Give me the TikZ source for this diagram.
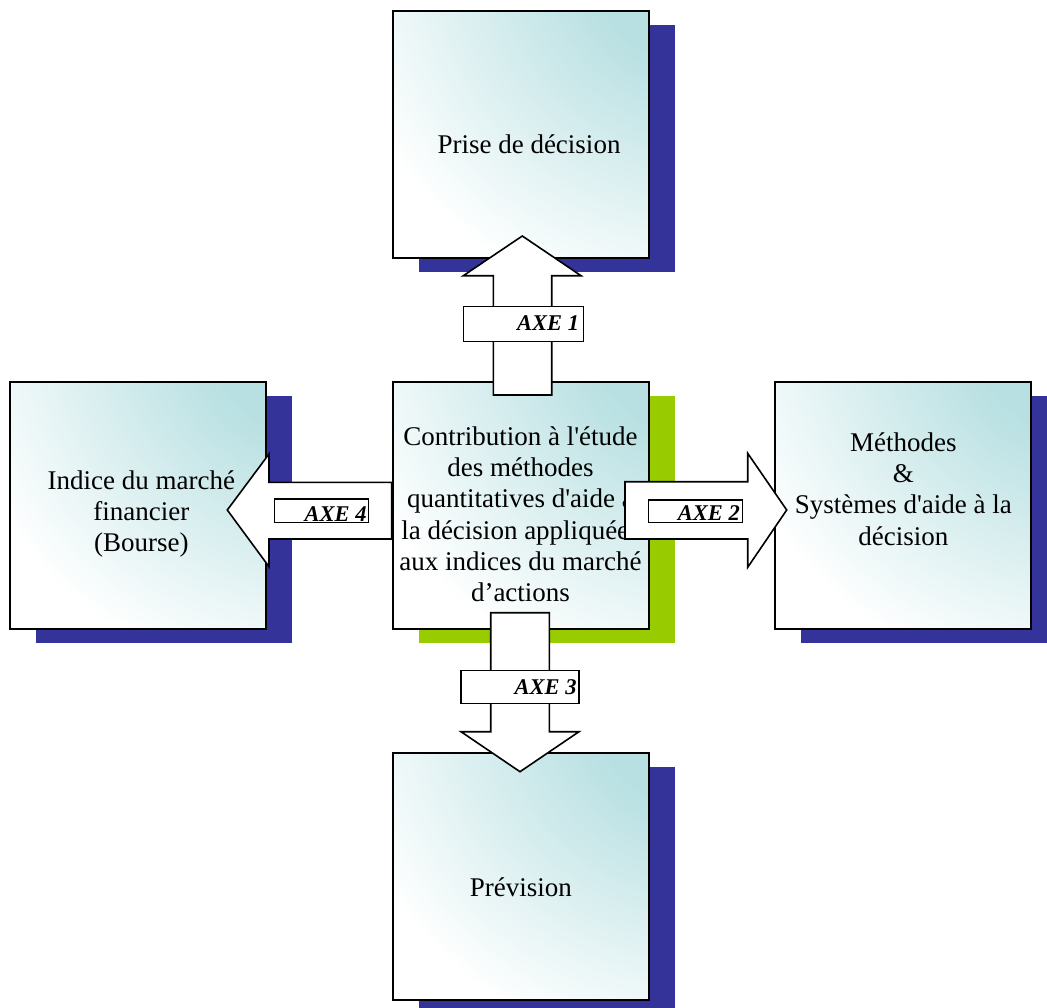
\documentclass[tikz,border=0pt]{standalone}
\usepackage{fontspec}
\setmainfont{Liberation Serif}[Ligatures=TeXOff]
\usetikzlibrary{shadows}

\definecolor{navyshadow}{RGB}{51,51,153}
\definecolor{limeshadow}{RGB}{153,204,0}

% teal in the upper right corner, white elsewhere
\pgfdeclarefunctionalshading{cornerglow}{\pgfpointorigin}{\pgfpoint{100bp}{100bp}}{}{
  85 sub dup mul exch 85 sub dup mul add sqrt 51 div 1.41 exch sub
  dup 0 lt {pop 0} if dup 1 gt {pop 1} if
  dup dup 0.114 mul 1 exch sub 3 1 roll 0.122 mul 1 exch sub exch 0.278 mul 1 exch sub 3 1 roll exch
}

\tikzset{
  axisbox/.style={draw, line width=1.8pt, shade, shading=cornerglow,
    minimum width=256pt, minimum height=247pt, inner sep=0pt},
  navydrop/.style={general shadow={fill=navyshadow, shadow xshift=26pt, shadow yshift=-13.5pt}},
  limedrop/.style={general shadow={fill=limeshadow, shadow xshift=26pt, shadow yshift=-13.5pt}},
  boxtext/.style={font=\fontsize{27}{31.3}\selectfont, align=center, inner sep=0pt, anchor=base},
  blockarrow/.style={draw, fill=white, line width=1.6pt, line join=miter},
  axebox/.style={draw, fill=white, line width=1.5pt, inner sep=0pt},
  axetext/.style={font=\fontsize{22.5}{24}\selectfont\bfseries\itshape, inner sep=0pt, anchor=base east}
}

\begin{document}
\begin{tikzpicture}[x=1pt, y=-1pt]
  \useasboundingbox (0,0) rectangle (1047,1007);

  % the five boxes
  \node[axisbox, navydrop] (decision) at (521,134.5) {};
  \node[axisbox, limedrop] (contrib) at (520.7,505.5) {};
  \node[axisbox, navydrop] (indice) at (138.2,505.5) {};
  \node[axisbox, navydrop] (methodes) at (903.2,505.5) {};
  \node[axisbox, navydrop] (prevision) at (520.8,876.7) {};

  % text sits on the baseline of its last line
  \node[boxtext] (decisiontxt) at (529,153) {Prise de décision};
  \node[boxtext] (contribtxt) at (520.5,601.7) {Contribution à l'étude\\des méthodes\\quantitatives d'aide à\\la décision appliquées\\aux indices du marché\\d’actions};
  \node[boxtext] (indicetxt) at (141.3,551.7) {Indice du marché\\financier\\(Bourse)};
  \node[boxtext] (methodestxt) at (903.3,545) {Méthodes\\\&\\Systèmes d'aide à la\\décision};
  \node[boxtext] (previsiontxt) at (520.8,896) {Prévision};

  % block arrows
  \draw[blockarrow] (493.3,395) -- (493.3,275.7) -- (463.3,275.7) -- (522.3,236)
    -- (581,275.7) -- (551.7,275.7) -- (551.7,395) -- cycle;
  \draw[blockarrow] (625,481.7) -- (747.7,481.7) -- (747.7,453.3) -- (786.7,510)
    -- (747.7,567.3) -- (747.7,539) -- (625,539) -- cycle;
  \draw[blockarrow] (490.7,612.7) -- (490.7,731.7) -- (461,731.7) -- (520,771.7)
    -- (579,731.7) -- (549.3,731.7) -- (549.3,612.7) -- cycle;
  \draw[blockarrow] (391.7,482.3) -- (269,482.3) -- (269,454) -- (227.3,510)
    -- (269,566.7) -- (269,539) -- (391.7,539) -- cycle;

  % axis labels
  \node[axebox, minimum width=120pt, minimum height=35pt] (axe1) at (523.3,324.2) {};
  \node[axetext] (axe1txt) at (579.3,330) {AXE 1};
  \node[axebox, minimum width=94pt, minimum height=22.3pt] (axe2) at (695.3,511.2) {};
  \node[axetext] (axe2txt) at (740,520.5) {AXE 2};
  \node[axebox, minimum width=118pt, minimum height=32.6pt] (axe3) at (520,687) {};
  \node[axetext] (axe3txt) at (576.7,694.3) {AXE 3};
  \node[axebox, minimum width=94pt, minimum height=23.3pt] (axe4) at (321.3,510.7) {};
  \node[axetext] (axe4txt) at (366.7,521) {AXE 4};
\end{tikzpicture}
\end{document}
